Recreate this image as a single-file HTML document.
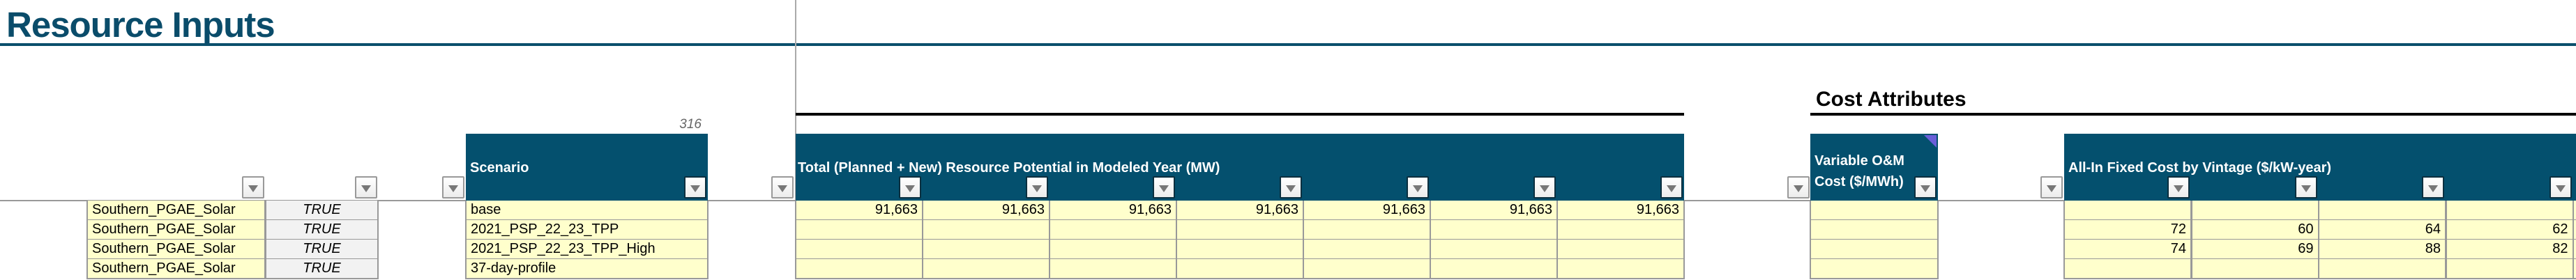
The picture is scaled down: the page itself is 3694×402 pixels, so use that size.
<!DOCTYPE html>
<html><head><meta charset="utf-8">
<style>
body{margin:0;width:3694px;height:402px;overflow:hidden;background:#fff;font-family:"Liberation Sans",Arial,sans-serif;position:relative}
.a{position:absolute}
.hdr{position:absolute;background:#04506e;color:#fff;font-weight:bold;font-size:20px;top:192px;height:96px}
.cell{position:absolute;box-sizing:border-box;border:2px solid #999;border-top:none;height:29px;font-size:20px;line-height:27px;padding:0 6px;white-space:nowrap;overflow:hidden}
.y{background:#ffffcc}
.g{background:#f2f2f2}
.dd{position:absolute;box-sizing:border-box;width:32px;height:32px;top:253px;background:linear-gradient(#fff,#ececec);border:2px solid #999;border-radius:2px}
.dd.in{border-color:#0b2f3f}
.dd::after{content:"";position:absolute;left:7px;top:11px;border-left:7px solid transparent;border-right:7px solid transparent;border-top:10px solid #777}
</style></head><body>
<div class="a" style="left:9px;top:6px;font-size:51px;font-weight:bold;color:#0a4c6a;letter-spacing:-1px">Resource Inputs</div>
<div class="a" style="left:0;top:62px;width:3694px;height:4px;background:#0b4f6c"></div>
<div class="a" style="left:1140px;top:0;width:2px;height:290px;background:#aaa"></div>
<div class="a" style="left:1141px;top:162px;width:1274px;height:4px;background:#000"></div>
<div class="a" style="left:2596px;top:162px;width:1098px;height:4px;background:#000"></div>
<div class="a" style="left:2604px;top:126px;font-size:30px;font-weight:bold">Cost Attributes</div>
<div class="a" style="left:960px;top:168px;width:46px;text-align:right;font-size:19px;font-style:italic;color:#666">316</div>
<div class="a" style="left:0;top:287px;width:3694px;height:2px;background:#999"></div>

<div class="hdr" style="left:668px;width:347px"><div style="position:absolute;left:6px;top:38px">Scenario</div></div>
<div class="hdr" style="left:1141px;width:1274px"><div style="position:absolute;left:3px;top:38px">Total (Planned + New) Resource Potential in Modeled Year (MW)</div></div>
<div class="hdr" style="left:2596px;width:183px"><div style="position:absolute;left:6px;top:24px;line-height:30px">Variable O&amp;M<br>Cost ($/MWh)</div><div style="position:absolute;right:2px;top:2px;width:0;height:0;border-left:18px solid transparent;border-top:18px solid #6a5fd8"></div></div>
<div class="hdr" style="left:2960px;width:734px"><div style="position:absolute;left:6px;top:38px">All-In Fixed Cost by Vintage ($/kW-year)</div></div>

<div id="root"></div>
<script>
const names=["Southern_PGAE_Solar","Southern_PGAE_Solar","Southern_PGAE_Solar","Southern_PGAE_Solar"];
const flags=["TRUE","TRUE","TRUE","TRUE"];
const scenarios=["base","2021_PSP_22_23_TPP","2021_PSP_22_23_TPP_High","37-day-profile"];
const potential=[[91663,91663,91663,91663,91663,91663,91663],[],[],[]];
const fixedCost=[[],[72,60,64,62],[74,69,88,82],[]];
const root=document.getElementById('root');
function cell(x,y,w,cls,txt,align,name,style){
  const d=document.createElement('div');
  d.className='cell '+cls;
  d.style.left=x+'px';d.style.top=y+'px';d.style.width=w+'px';
  d.style.textAlign=align;
  if(style)d.style.cssText+=style;
  d.textContent=txt;
  
  
  root.appendChild(d);
}
function fmt(v){return v===undefined?'':v.toLocaleString('en-US');}
for(let r=0;r<4;r++){
  const y=288+r*28;
  cell(124,y,257,'y',names[r],'left','resource-name-cell');
  cell(380,y,163,'g',flags[r],'center','include-flag-cell','font-style:italic');
  cell(667,y,349,'y',scenarios[r],'left','scenario-cell');
  for(let c=0;c<7;c++) cell(1140+c*182,y,184,'y',fmt(potential[r][c]),'right','potential-cell');
  cell(2595,y,185,'y','','right','variable-om-cell');
  for(let c=0;c<5;c++) cell(2959+c*182.5,y,184,'y',fmt(fixedCost[r][c]),'right','fixed-cost-cell');
}
const dds=[[347,0],[509,0],[634,0],[981,1],[1106,0],[2563,0],[2745,1],[2926,0]];
for(let c=0;c<7;c++)dds.push([1141+c*182+148,1]);
for(let c=0;c<4;c++)dds.push([2960+c*182.5+148,1]);
dds.forEach(d=>{
  const b=document.createElement('div');
  b.className='dd'+(d[1]?' in':'');
  b.style.left=d[0]+'px';
  
  
  root.appendChild(b);
});
</script>
</body></html>
